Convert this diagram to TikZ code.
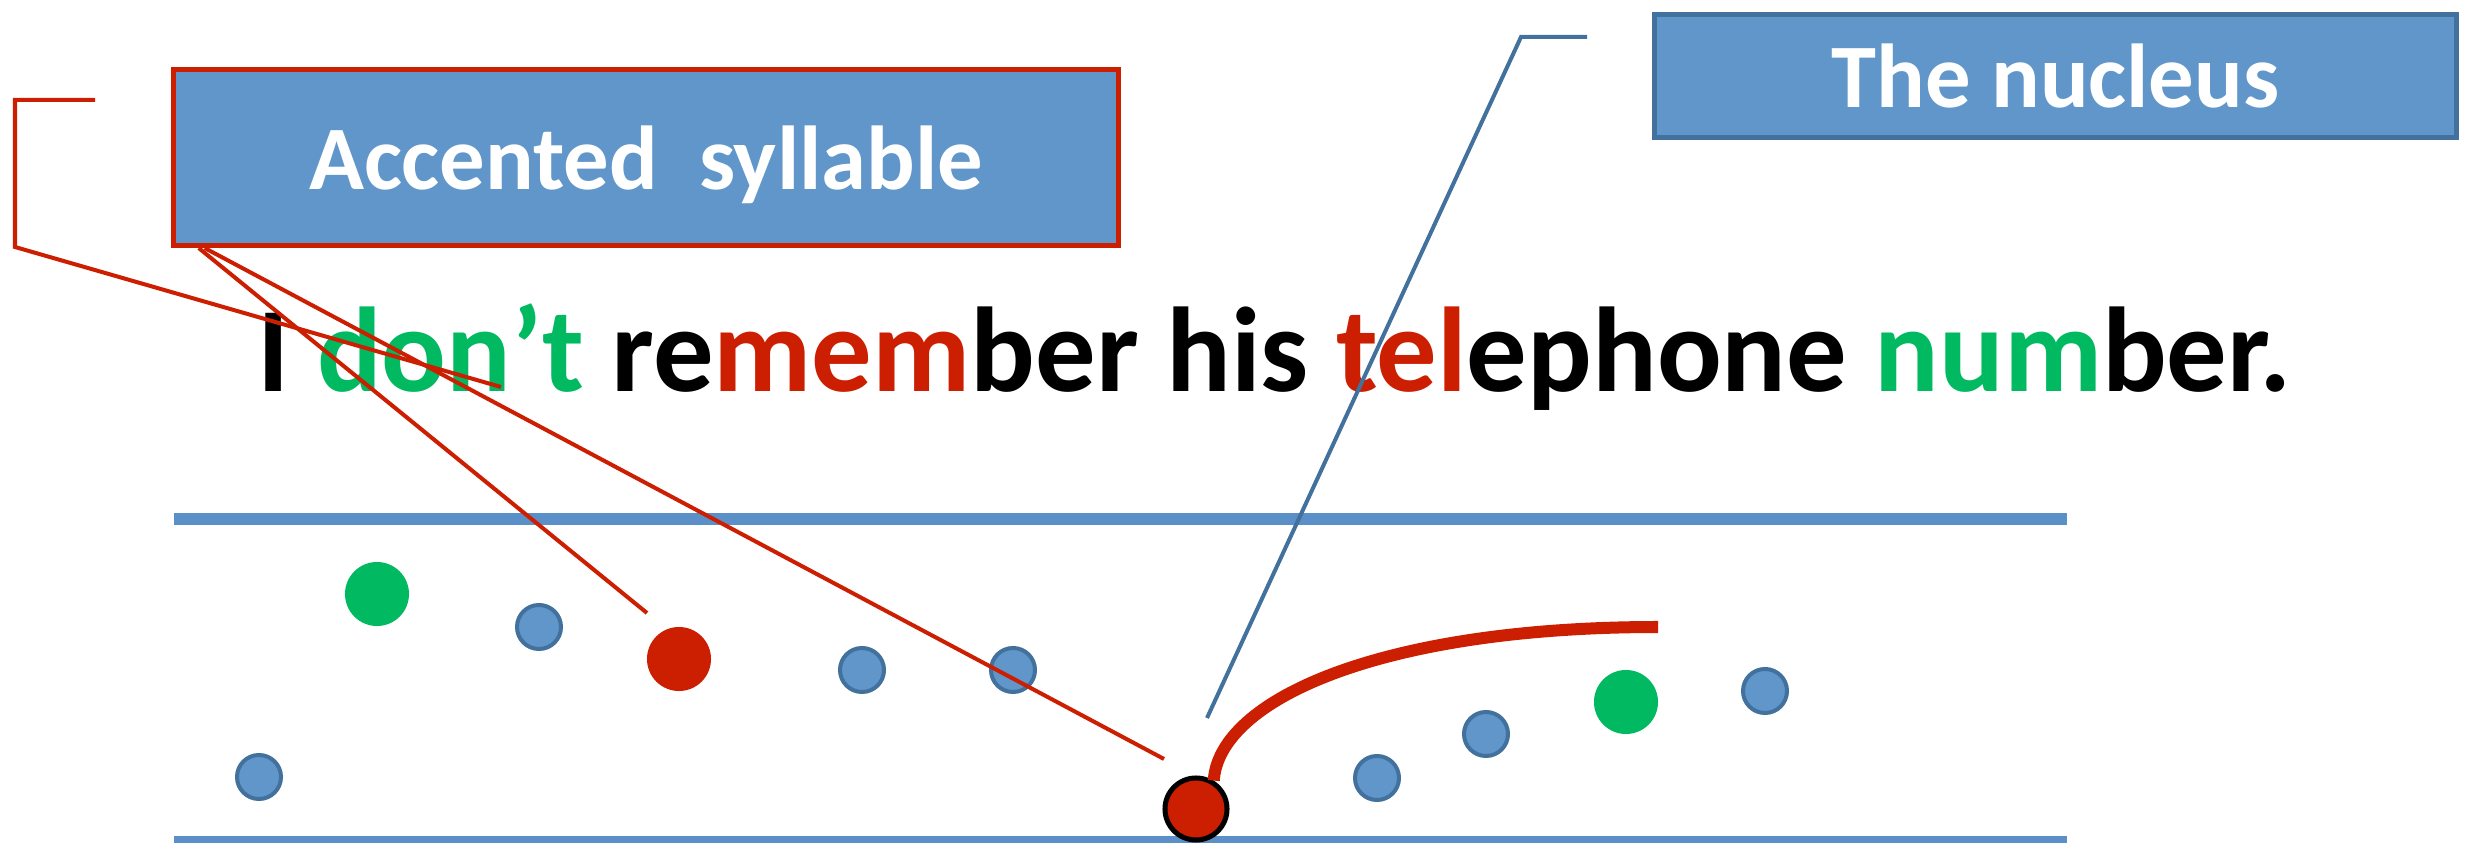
\documentclass[tikz,border=0pt]{standalone}
\usepackage{fontspec}
\setmainfont{Carlito}
\usetikzlibrary{calc}
\definecolor{boxblue}{HTML}{6096C9}\definecolor{edgeblue}{HTML}{41719C}\definecolor{lineblue}{HTML}{5B8FC8}
\definecolor{accred}{HTML}{CC1E00}\definecolor{accgreen}{HTML}{00B960}
\tikzset{tagbox/.style={fill=boxblue,line width=.05cm,text=white,font=\fontsize{25.8}{30}\selectfont\bfseries,inner sep=0,text depth=0pt},
dot/.style={circle,draw=edgeblue,fill=boxblue,line width=.04cm,minimum size=.44cm,inner sep=0},
bigdot/.style={circle,minimum size=.64cm,inner sep=0},callout/.style={line width=.04cm},rule/.style={lineblue,line width=.12cm}}

\begin{document}
\begin{tikzpicture}[x=.01cm,y=-.01cm]
\useasboundingbox (0,0) rectangle (2474,843);
\node[tagbox,draw=accred,minimum width=9.45cm,minimum height=1.76cm] (acc) at (646,157.5) {Accented\ \ syllable};
\node[tagbox,draw=edgeblue,minimum width=8.02cm,minimum height=1.23cm] (nuc) at (2055.5,76) {The nucleus};
\node[anchor=base west,inner sep=0,font=\fontsize{34.3}{40}\selectfont\bfseries] (sent) at (257,392) {I \textcolor{accgreen}{don’t} re\textcolor{accred}{mem}ber his \textcolor{accred}{tel}ephone \textcolor{accgreen}{num}ber.};
\draw[rule] (174,519.5)--(2067,519.5);\draw[rule] (174,842)--(2067,842);
\node[dot] (d1) at (259,777) {};\node[bigdot,fill=accgreen] (g1) at (377,594) {};\node[dot] (d2) at (539,627) {};
\node[bigdot,fill=accred] (r1) at (679,659) {};\node[dot] (d3) at (862,670) {};\node[dot] (d4) at (1013,670) {};
\node[circle,draw=black,fill=accred,line width=.05cm,minimum size=.62cm,inner sep=0] (nc) at (1196,809) {};
\node[dot] (d5) at (1377,778) {};\node[dot] (d6) at (1486,734) {};\node[bigdot,fill=accgreen] (g2) at (1626,702) {};\node[dot] (d7) at (1765,691) {};
\coordinate (e0) at (501,387);\coordinate (e1) at (647,613);\coordinate (e2) at (1164,759);\coordinate (e3) at (1207,718);
\draw[callout,accred] (95,100) -| (15,247)--(e0);
\draw[callout,accred] ($(acc.south west)+(28,0)$)--(e1);\draw[callout,accred] ($(acc.south west)+(34,0)$)--(e2);
\draw[callout,edgeblue] (1587,37)--(1521,37)--(e3);
\draw[accred,line width=.12cm] (nc.58) .. controls (1219,700) and (1380,627) .. (1658,627);
\end{tikzpicture}
\end{document}
